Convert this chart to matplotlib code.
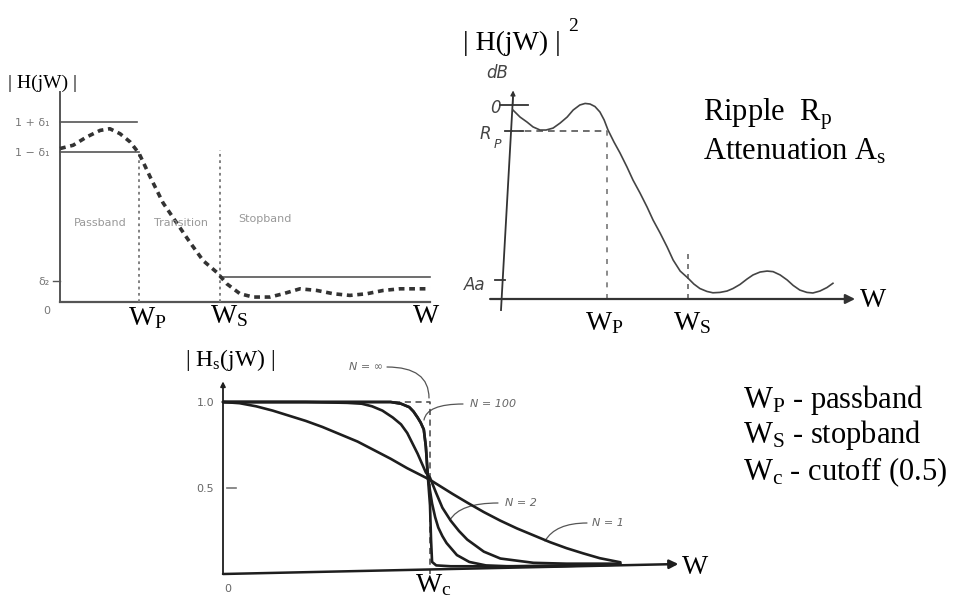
import matplotlib
matplotlib.use("Agg")
import matplotlib.pyplot as plt

# ---------------- data ----------------
# Panel 1 (top-left): |H(jW)| tolerance scheme. x: % of axis length, y: magnitude
p1_freq = [0, 3.5, 7.1, 10.7, 13.3, 16, 18.7, 21.1, 24, 27.5, 31.1, 34.7, 38.2,
           41.8, 44.5, 48, 51.5, 56, 59.5, 64, 68.5, 72.9, 77.3, 81.8, 86.2, 90.7, 98.7]
p1_mag = [0.93, 0.95, 1.00, 1.04, 1.05, 1.02, 0.97, 0.90, 0.76, 0.60, 0.48, 0.36, 0.25,
          0.18, 0.11, 0.05, 0.03, 0.03, 0.05, 0.08, 0.07, 0.05, 0.04, 0.05, 0.07, 0.08, 0.08]
p1_wp, p1_ws, p1_wend = 21.1, 42.7, 98.7
p1_delta1, p1_delta2 = 0.09, 0.15
p1_regions = ["Passband", "Transition", "Stopband"]
p1_ticklabels = ["1 + δ₁", "1 − δ₁", "δ₂", "0"]

# Panel 2 (top-right): |H(jW)|^2 in dB (hand sketch). x: % of axis, y: 0 dB = 1
p2_freq = [3.4, 5.4, 7.4, 9.1, 11.1, 12.8, 14.8, 16.8, 18.8, 20.5, 22.4, 23.9, 25.3, 26.7,
           28.1, 29.3, 30.4, 32.1, 33.8, 35.8, 37.5, 39.5, 41.5, 43.2, 45.2, 47.2, 48.9,
           50.9, 53.1, 54.8, 56.5, 58.5, 60.2, 62.2, 64.2, 65.9, 67.9, 69.9, 71.6, 73.6,
           75.6, 77.3, 79.3, 81.3, 83.0, 84.9, 86.9, 88.6, 90.6, 92.6, 94.3]
p2_mag = [0.974, 0.938, 0.912, 0.887, 0.871, 0.871, 0.881, 0.907, 0.938, 0.974, 1.0, 1.008,
          1.005, 0.992, 0.964, 0.923, 0.871, 0.809, 0.753, 0.680, 0.613, 0.546, 0.474,
          0.407, 0.340, 0.268, 0.201, 0.144, 0.108, 0.077, 0.054, 0.039, 0.032, 0.034,
          0.041, 0.054, 0.075, 0.103, 0.124, 0.139, 0.144, 0.141, 0.124, 0.098, 0.070,
          0.046, 0.034, 0.031, 0.041, 0.059, 0.081]
p2_wp, p2_ws = 30.0, 53.2
p2_rp, p2_as = 0.868, 0.098

# Panel 3 (bottom): Butterworth |Hs(jW)|, x in units of Wc
n1_x = [0, 0.08, 0.16, 0.24, 0.32, 0.40, 0.48, 0.56, 0.65, 0.73, 0.81, 0.89, 0.98, 1.01,
        1.11, 1.18, 1.26, 1.34, 1.42, 1.50, 1.58, 1.66, 1.74, 1.82, 1.92]
n1_y = [1.0, 0.993, 0.975, 0.95, 0.92, 0.89, 0.855, 0.815, 0.77, 0.72, 0.67, 0.615, 0.56,
        0.54, 0.465, 0.415, 0.36, 0.31, 0.265, 0.225, 0.185, 0.15, 0.12, 0.092, 0.068]
n2_x = [0, 0.4, 0.6, 0.67, 0.72, 0.77, 0.82, 0.86, 0.89, 0.94, 0.98, 1.0, 1.03, 1.06, 1.10,
        1.14, 1.18, 1.26, 1.34, 1.50, 1.66, 1.92]
n2_y = [1.0, 1.0, 0.995, 0.99, 0.975, 0.95, 0.91, 0.87, 0.82, 0.70, 0.59, 0.56, 0.47, 0.385,
        0.31, 0.25, 0.20, 0.13, 0.09, 0.065, 0.06, 0.06]
nm_x = [0, 0.5, 0.81, 0.86, 0.90, 0.92, 0.94, 0.955, 0.97, 0.975, 0.98, 0.99, 1.01, 1.025,
        1.04, 1.06, 1.08, 1.13, 1.19, 1.27, 1.37, 1.6, 1.92]
nm_y = [1.0, 1.0, 1.0, 0.99, 0.97, 0.945, 0.91, 0.88, 0.84, 0.79, 0.74, 0.56, 0.41, 0.33,
        0.27, 0.22, 0.18, 0.11, 0.07, 0.05, 0.045, 0.045, 0.055]
n100_x = [0, 0.5, 0.81, 0.86, 0.90, 0.92, 0.94, 0.955, 0.97, 0.975, 0.98, 0.99, 1.0, 1.005,
          1.01, 1.03, 1.1, 1.4, 1.92]
n100_y = [1.0, 1.0, 1.0, 0.99, 0.97, 0.945, 0.91, 0.88, 0.84, 0.79, 0.74, 0.56, 0.40, 0.2,
          0.07, 0.05, 0.045, 0.045, 0.055]
ninf_x = [0, 1.0, 1.0]
ninf_y = [1.0, 1.0, 0.0]
p3_ticklabels = ["1.0", "0.5", "0"]
n_labels = ["N = ∞", "N = 100", "N = 2", "N = 1"]

# ---------------- figure ----------------
W, H = 956, 605
plt.rcParams['mathtext.fontset'] = 'custom'
plt.rcParams['mathtext.rm'] = 'Liberation Serif'
plt.rcParams['mathtext.it'] = 'Liberation Serif:italic'
plt.rcParams['font.family'] = ['DejaVu Sans']
SERIF = 'Liberation Serif'

fig = plt.figure(figsize=(W / 100, H / 100), dpi=100)
fig.patch.set_facecolor('white')


def panel(x0, sx, y0, sy):
    ax = fig.add_axes([0, 0, 1, 1])
    ax.set_xlim(-x0 / sx, (W - x0) / sx)
    ax.set_ylim((y0 - H) / sy, y0 / sy)
    ax.axis('off')
    ax.patch.set_alpha(0)
    return ax


axt = fig.add_axes([0, 0, 1, 1])
axt.set_xlim(0, W)
axt.set_ylim(H, 0)
axt.axis('off')
axt.patch.set_alpha(0)


def T(x, y, s, size=20, ha='left', va='baseline', **kw):
    kw.setdefault('family', SERIF)
    kw.setdefault('color', 'black')
    axt.text(x, y, s, fontsize=size, ha=ha, va=va, **kw)


# ---- Panel 1 ----
g1 = '#555555'
ax1 = panel(60, 3.75, 302, 165)
ax1.plot([0, 0], [0, 1.27], color=g1, lw=1.4)
ax1.plot([0, p1_wend], [0, 0], color=g1, lw=1.6)
ax1.plot([0, p1_wp - 0.6], [1 + p1_delta1] * 2, color=g1, lw=1.2)
ax1.plot([0, p1_wp], [1 - p1_delta1] * 2, color=g1, lw=1.2)
ax1.plot([p1_ws, p1_wend], [p1_delta2] * 2, color=g1, lw=1.2)
ax1.plot([-2, 0], [p1_delta2 - 0.02] * 2, color=g1, lw=1)
ax1.plot([p1_wp, p1_wp], [0, 1 - p1_delta1], color='#777', lw=1.3, ls=(0, (1.5, 2)))
ax1.plot([p1_ws, p1_ws], [0, 0.92], color='#777', lw=1.3, ls=(0, (1.5, 2)))
ax1.plot(p1_freq, p1_mag, color='#333333', lw=2.6, ls=(0, (1.6, 1.3)))
for s, xx, yy in zip(p1_regions, [10.7, 32.3, 54.7], [0.48, 0.48, 0.50]):
    ax1.text(xx, yy, s, fontsize=8, color='#999999', ha='center', va='center')
for s, yy in zip(p1_ticklabels, [123, 153, 282, 311]):
    T(50, yy, s, size=8, ha='right', va='center', family='DejaVu Sans', color='#777777')
T(8, 88, '| H(jW) |', size=14)
T(128, 325, r'W$_\mathrm{P}$')
T(210, 323, r'W$_\mathrm{S}$')
T(413, 323, 'W')

# ---- Panel 2 ----
g2 = '#333333'
ax2 = panel(501, 3.52, 299, 194)
ax2.plot([0, 3.4], [-0.057, 1.04], color=g2, lw=1.3)
ax2.annotate('', xy=(3.45, 1.075), xytext=(3.3, 1.0),
             arrowprops=dict(arrowstyle='-|>', color=g2, lw=1, mutation_scale=7,
                             shrinkA=0, shrinkB=0))
ax2.annotate('', xy=(100.6, 0), xytext=(-3.1, 0),
             arrowprops=dict(arrowstyle='-|>', color=g2, lw=1.6, mutation_scale=14,
                             shrinkA=0, shrinkB=0))
ax2.plot([-0.3, 7.7], [1.0, 1.0], color=g2, lw=1.3)
ax2.plot([1.1, 6.3], [p2_rp, p2_rp], color=g2, lw=1.3)
ax2.plot([-1.7, 1.1], [p2_as, p2_as], color=g2, lw=1.3)
ax2.plot([3.3, p2_wp], [p2_rp, p2_rp], color='#555', lw=1.2, ls=(0, (4, 3)))
ax2.plot([p2_wp, p2_wp], [0, p2_rp], color='#777', lw=1.2, ls=(0, (3, 4)))
ax2.plot([p2_ws, p2_ws], [0, 0.237], color='#666', lw=1.2, ls=(0, (3, 3)))
ax2.plot(p2_freq, p2_mag, color='#444444', lw=1.2)
hand = dict(family='DejaVu Sans', style='italic', color='#444444', weight='light')
T(497, 73, 'dB', size=12, ha='center', va='center', **hand)
T(495, 108, '0', size=12, ha='center', va='center', **hand)
T(485, 134, 'R', size=12, ha='center', va='center', **hand)
T(497, 144, 'P', size=9, ha='center', va='center', **hand)
T(475, 285, 'Aa', size=12, ha='center', va='center', **hand)
T(463, 50, '| H(jW) |', size=20)
T(568, 31, '2', size=14)
T(585, 330, r'W$_\mathrm{P}$')
T(673, 330, r'W$_\mathrm{S}$')
T(860, 307, 'W')
T(703, 121, r'Ripple  R$_\mathrm{p}$', size=22)
T(703, 160, r'Attenuation A$_\mathrm{s}$', size=22)

# ---- right text ----
T(743, 408, r'W$_\mathrm{P}$ - passband', size=22)
T(743, 443, r'W$_\mathrm{S}$ - stopband', size=22)
T(743, 480, r'W$_\mathrm{c}$ - cutoff (0.5)', size=22)

# ---- Panel 3 ----
g3 = '#1e1e1e'
ax3 = panel(223, 207, 574, 172)
ax3.annotate('', xy=(0, 1.12), xytext=(0, 0),
             arrowprops=dict(arrowstyle='-|>', color=g3, lw=1.3, mutation_scale=7,
                             shrinkA=0, shrinkB=0))
ax3.annotate('', xy=(2.2, 0.058), xytext=(0, 0),
             arrowprops=dict(arrowstyle='-|>', color=g3, lw=1.8, mutation_scale=13,
                             shrinkA=0, shrinkB=0))
ax3.plot([0.02, 0.065], [0.5, 0.5], color='#777', lw=1.2)
ax3.plot(ninf_x, ninf_y, color='#444', lw=1.1, ls=(0, (4, 3)))
for xs, ys in [(n1_x, n1_y), (n2_x, n2_y), (nm_x, nm_y), (n100_x, n100_y)]:
    ax3.plot(xs, ys, color=g3, lw=1.9, solid_capstyle='round', solid_joinstyle='round')
for s, yy in zip(p3_ticklabels[:2], [403, 489]):
    T(214, yy, s, size=8, ha='right', va='center', family='DejaVu Sans', color='#666666')
T(228, 589, p3_ticklabels[2], size=8, ha='center', va='center', family='DejaVu Sans', color='#666666')
nl = dict(family='DejaVu Sans', style='italic', color='#666666', size=8, va='center', ha='center')
for s, (xx, yy) in zip(n_labels, [(366, 367), (493, 404), (521, 503), (608, 523)]):
    T(xx, yy, s, **nl)
lead = dict(arrowstyle='-', color='#555', lw=0.9, shrinkA=0, shrinkB=0)
axt.annotate('', xy=(429, 398), xytext=(387, 367),
             arrowprops=dict(connectionstyle='angle3,angleA=0,angleB=90', **lead))
axt.annotate('', xy=(424, 420), xytext=(463, 404),
             arrowprops=dict(connectionstyle='angle3,angleA=0,angleB=80', **lead))
axt.annotate('', xy=(450, 520), xytext=(498, 503),
             arrowprops=dict(connectionstyle='angle3,angleA=0,angleB=60', **lead))
axt.annotate('', xy=(545, 541), xytext=(587, 523),
             arrowprops=dict(connectionstyle='angle3,angleA=0,angleB=60', **lead))
T(185, 366, r'| H$_\mathrm{s}$(jW) |', size=17)
T(415, 592, r'W$_\mathrm{c}$')
T(682, 574, 'W')

fig.savefig('out.png', dpi=100, facecolor='white')
